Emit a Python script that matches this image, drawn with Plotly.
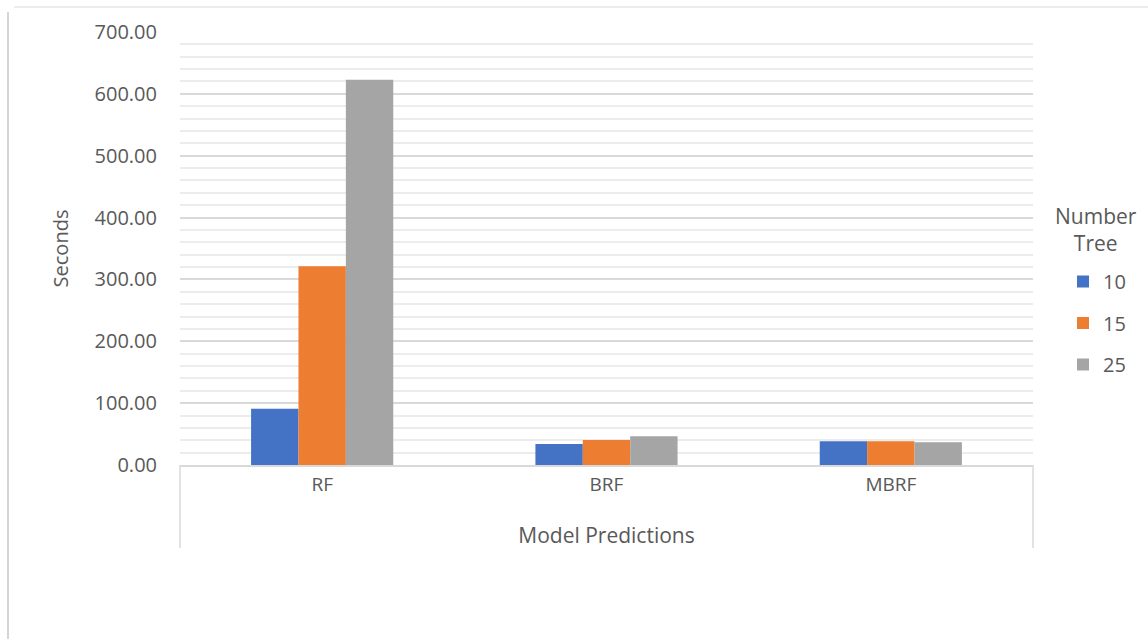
import plotly.graph_objects as go

# Training time per model for each forest size
models = ["RF", "BRF", "MBRF"]
tree_counts = ["10", "15", "25"]
seconds_10 = [91.0, 34.0, 38.3]
seconds_15 = [321.5, 40.5, 38.3]
seconds_25 = [623.0, 46.4, 36.7]
series_values = [seconds_10, seconds_15, seconds_25]
colors = ["#4472C4", "#ED7D31", "#A5A5A5"]

W, H = 1148, 639
L, R, T, B = 180, 1033, 32, 465  # plot area in pixels


def px_x(px):
    return (px - L) / (R - L)


def px_y(py):
    return (B - py) / (B - T)


FONT = "Open Sans"
GREY_TXT = "#595959"

fig = go.Figure()
for i, (name, vals) in enumerate(zip(tree_counts, series_values)):
    fig.add_trace(go.Bar(
        x=models, y=vals, name=name,
        marker=dict(color=colors[i], line=dict(width=0)),
        legendgroup=name,
    ))

shapes = [
    # category-axis box edges
    dict(type="line", xref="paper", yref="paper", x0=0, x1=0, y0=0, y1=px_y(548),
         line=dict(color="#d9d9d9", width=1.5)),
    dict(type="line", xref="paper", yref="paper", x0=1, x1=1, y0=0, y1=px_y(548),
         line=dict(color="#d9d9d9", width=1.5)),
    # chart area border fragments
    dict(type="line", xref="paper", yref="paper", x0=px_x(8), x1=px_x(8), y0=px_y(12), y1=px_y(640),
         line=dict(color="#d4d4d4", width=2)),
    dict(type="line", xref="paper", yref="paper", x0=px_x(14), x1=px_x(1150), y0=px_y(7), y1=px_y(7),
         line=dict(color="#e6e6e6", width=1.5)),
]

annotations = [
    # legend heading, centred over the legend entries
    dict(text="Number<br>Tree", xref="paper", yref="paper", x=px_x(1096), y=px_y(229),
         xanchor="center", yanchor="middle", showarrow=False, align="center",
         font=dict(family=FONT, size=21, color=GREY_TXT)),
]

fig.update_layout(
    width=W, height=H,
    margin=dict(l=L, r=W - R, t=T, b=H - B),
    paper_bgcolor="white", plot_bgcolor="white",
    font=dict(family=FONT, color=GREY_TXT, size=20),
    barmode="group", bargap=0.5, bargroupgap=0,
    showlegend=True,
    legend=dict(
        x=px_x(1063), xanchor="left", y=px_y(262), yanchor="top",
        font=dict(size=20, color=GREY_TXT),
        traceorder="grouped", tracegroupgap=12.5,
        itemwidth=30,
    ),
    xaxis=dict(
        showgrid=False, showline=True, linecolor="#d9d9d9", linewidth=1.5,
        ticks="", tickfont=dict(size=19, color=GREY_TXT),
        ticklabelstandoff=1,
        title=dict(text="Model Predictions", font=dict(size=21, color=GREY_TXT), standoff=33),
    ),
    yaxis=dict(
        range=[0, 700], tickvals=[0, 100, 200, 300, 400, 500, 600, 700],
        ticktext=["0.00", "100.00", "200.00", "300.00", "400.00", "500.00", "600.00", "700.00"],
        showgrid=True, gridcolor="#d9d9d9", gridwidth=1.5,
        minor=dict(dtick=20, showgrid=True, gridcolor="#ececec", gridwidth=1.5),
        zeroline=False, showline=False, ticks="",
        tickfont=dict(size=20, color=GREY_TXT), ticklabelstandoff=22,
        title=dict(text="Seconds", font=dict(size=20, color=GREY_TXT), standoff=20),
    ),
    shapes=shapes,
    annotations=annotations,
)

fig.write_html("out.html")
